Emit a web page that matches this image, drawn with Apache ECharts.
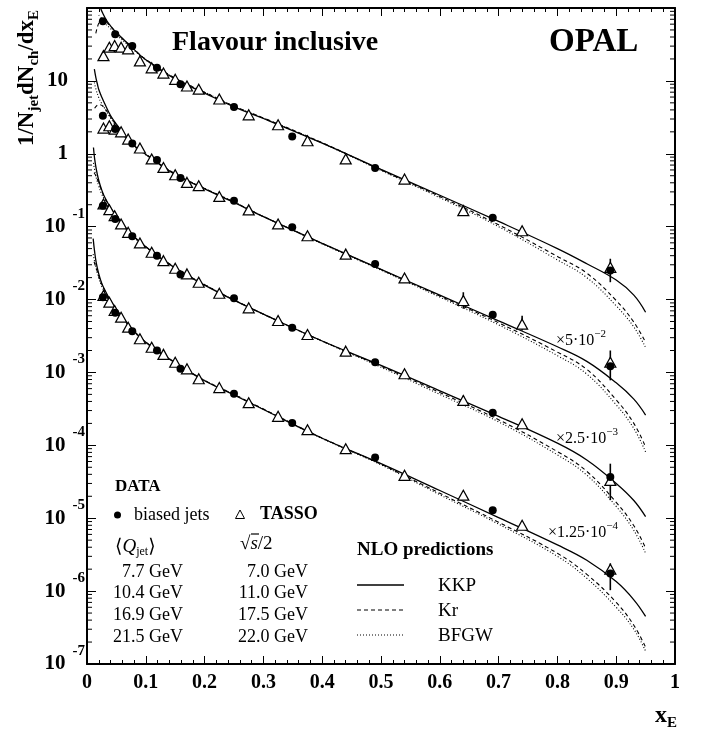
<!DOCTYPE html>
<html><head><meta charset="utf-8">
<script src="https://cdn.jsdelivr.net/npm/echarts@6/dist/echarts.min.js"></script>
<style>html,body{margin:0;padding:0;background:#fff}#c{width:701px;height:732px}</style>
</head><body><div id="c"></div>
<script>
const FONT = '"Liberation Serif","DejaVu Serif",serif';

// ---------------- data ----------------
const xTickLabels = ['0','0.1','0.2','0.3','0.4','0.5','0.6','0.7','0.8','0.9','1'];
const yDecadeExponents = [-7,-6,-5,-4,-3,-2,-1,0,1,2];
const minorMantissas = [2,3,4,5,6,7,8,9];

// OPAL biased jets (filled circles), values as plotted (scaled)
const jetX  = [0.027, 0.048, 0.077, 0.119, 0.159, 0.25, 0.349, 0.49, 0.69, 0.89];
const jet1  = [66, 43.6, 30.1, 15.2, 9.0, 4.4, 1.72, 0.637, 0.133, 0.025];
const jet2  = [3.32, 2.18, 1.38, 0.82, 0.465, 0.227, 0.098, 0.0308, 0.0062, 0.00122];
const jet3  = [0.194, 0.127, 0.0738, 0.040, 0.022, 0.0104, 0.0041, 0.00138, 0.00028, 0.0000368];
const jet4  = [0.01075, 0.00658, 0.00368, 0.0020, 0.001125, 0.00051, 0.000202, 0.000068, 0.0000129, 0.00000175];

// TASSO (open triangles)
const tassoX = [0.028, 0.038, 0.047, 0.058, 0.07, 0.09, 0.11, 0.13, 0.15, 0.17, 0.19, 0.225, 0.275, 0.325, 0.375, 0.44, 0.54, 0.64, 0.74, 0.89];
const tasso1 = [22.2, 29, 30.5, 29, 27.5, 18.8, 15.1, 12.8, 10.5, 8.5, 7.7, 5.65, 3.42, 2.5, 1.51, 0.85, 0.45, 0.166, 0.088, 0.0277];
const tasso2 = [2.25, 2.42, 2.18, 2.0, 1.59, 1.2, 0.85, 0.65, 0.515, 0.405, 0.365, 0.26, 0.17, 0.109, 0.075, 0.042, 0.0198, 0.0097, 0.0046, 0.00138];
const tasso3 = [0.205, 0.171, 0.1415, 0.109, 0.0836, 0.0598, 0.0445, 0.0342, 0.0269, 0.0225, 0.0173, 0.0122, 0.0077, 0.00516, 0.00332, 0.00196, 0.00096, 0.000413, 0.000198, 0.000033];
const tasso4 = [0.01135, 0.0092, 0.00707, 0.00573, 0.00418, 0.0029, 0.00222, 0.00177, 0.00138, 0.00112, 0.00082, 0.00062, 0.000385, 0.00025, 0.000164, 0.00009, 0.0000388, 0.0000207, 0.000008, 0.000002];

// error bars [x, low, high]
const errBars = [
  [0.89, 0.0173, 0.0363], [0.74, 0.08, 0.097],
  [0.64, 0.0075, 0.0126], [0.74, 0.00376, 0.006], [0.89, 0.00078, 0.002],
  [0.64, 0.00035, 0.00048], [0.89, 0.0000177, 0.000056],
  [0.89, 0.00000103, 0.0000024]
];

// NLO predictions [x, y]
const kkp1 = [[0.02,125],[0.023,100],[0.027,84],[0.034,66],[0.04,57],[0.05,46],[0.075,29.5],[0.1,19.5],[0.15,10.6],[0.2,6.8],[0.25,4.4],[0.3,3.05],[0.4,1.4],[0.5,0.61],[0.6,0.27],[0.7,0.118],[0.8,0.05],[0.85,0.031],[0.9,0.0185],[0.93,0.0115],[0.95,0.0067]];
const kr1  = [[0.015,45],[0.02,62],[0.025,70],[0.03,67],[0.04,56],[0.05,45.5],[0.075,29.5],[0.1,19.8],[0.15,10.9],[0.2,7.0],[0.25,4.5],[0.3,3.1],[0.4,1.42],[0.5,0.6],[0.6,0.26],[0.7,0.106],[0.8,0.039],[0.85,0.023],[0.9,0.0097],[0.93,0.0049],[0.95,0.0026]];
const bf1  = [[0.02,80],[0.025,72],[0.03,63],[0.04,52],[0.05,43],[0.075,28.5],[0.1,19.3],[0.15,10.8],[0.2,7.0],[0.25,4.5],[0.3,3.08],[0.4,1.4],[0.5,0.59],[0.6,0.25],[0.7,0.1],[0.8,0.035],[0.85,0.02],[0.9,0.0082],[0.93,0.0042],[0.95,0.0022]];

const kkp2 = [[0.0125,14.5],[0.015,11.2],[0.018,8.8],[0.02,7.6],[0.025,6.0],[0.03,4.9],[0.04,3.35],[0.05,2.55],[0.075,1.42],[0.1,0.98],[0.15,0.52],[0.2,0.33],[0.25,0.215],[0.3,0.137],[0.4,0.059],[0.5,0.026],[0.6,0.0115],[0.7,0.0051],[0.8,0.00225],[0.85,0.00142],[0.9,0.00072],[0.93,0.00043],[0.95,0.00026]];
const kr2  = [[0.013,4.2],[0.017,4.6],[0.022,4.7],[0.03,4.2],[0.04,3.2],[0.05,2.5],[0.075,1.42],[0.1,0.99],[0.15,0.53],[0.2,0.335],[0.25,0.218],[0.3,0.138],[0.4,0.059],[0.5,0.0258],[0.6,0.0112],[0.7,0.0048],[0.8,0.0019],[0.85,0.0011],[0.9,0.00042],[0.93,0.0002],[0.95,0.000095]];
const bf2  = [[0.0125,9.5],[0.015,7.8],[0.02,5.9],[0.025,4.9],[0.03,4.2],[0.04,3.1],[0.05,2.4],[0.075,1.38],[0.1,0.97],[0.15,0.53],[0.2,0.335],[0.25,0.218],[0.3,0.138],[0.4,0.058],[0.5,0.0253],[0.6,0.0108],[0.7,0.0045],[0.8,0.0017],[0.85,0.00095],[0.9,0.00036],[0.93,0.00017],[0.95,0.000081]];

const kkp3 = [[0.011,1.22],[0.013,0.85],[0.016,0.6],[0.02,0.43],[0.025,0.32],[0.03,0.255],[0.04,0.182],[0.05,0.137],[0.075,0.08],[0.1,0.053],[0.15,0.027],[0.2,0.0158],[0.25,0.0098],[0.3,0.0063],[0.4,0.0027],[0.5,0.00125],[0.6,0.00056],[0.7,0.00025],[0.8,0.000107],[0.85,0.000063],[0.9,0.00003],[0.93,0.0000175],[0.95,0.0000105]];
const kr3  = [[0.012,0.55],[0.015,0.5],[0.02,0.4],[0.025,0.31],[0.03,0.25],[0.04,0.18],[0.05,0.136],[0.075,0.08],[0.1,0.053],[0.15,0.0275],[0.2,0.016],[0.25,0.0099],[0.3,0.0063],[0.4,0.0027],[0.5,0.00122],[0.6,0.00053],[0.7,0.000225],[0.8,0.000082],[0.85,0.000044],[0.9,0.0000165],[0.93,0.0000079],[0.95,0.0000039]];
const bf3  = [[0.011,0.75],[0.013,0.6],[0.016,0.46],[0.02,0.36],[0.025,0.28],[0.03,0.235],[0.04,0.173],[0.05,0.132],[0.075,0.078],[0.1,0.052],[0.15,0.0272],[0.2,0.016],[0.25,0.0099],[0.3,0.0063],[0.4,0.00268],[0.5,0.00118],[0.6,0.0005],[0.7,0.00021],[0.8,0.000074],[0.85,0.000039],[0.9,0.0000145],[0.93,0.0000068],[0.95,0.0000033]];

const kkp4 = [[0.0105,0.0685],[0.013,0.045],[0.016,0.031],[0.02,0.0225],[0.025,0.0168],[0.03,0.0137],[0.04,0.0097],[0.05,0.0073],[0.075,0.0041],[0.1,0.0026],[0.15,0.00135],[0.2,0.00077],[0.25,0.00049],[0.3,0.00031],[0.4,0.000125],[0.5,0.000056],[0.6,0.000024],[0.7,0.0000102],[0.8,0.0000043],[0.85,0.00000265],[0.9,0.00000135],[0.93,0.00000076],[0.95,0.00000045]];
const kr4  = [[0.012,0.033],[0.015,0.028],[0.02,0.021],[0.025,0.0163],[0.03,0.0134],[0.04,0.0096],[0.05,0.0073],[0.075,0.0041],[0.1,0.0026],[0.15,0.00137],[0.2,0.00078],[0.25,0.0005],[0.3,0.000315],[0.4,0.000126],[0.5,0.000055],[0.6,0.000022],[0.7,0.0000088],[0.8,0.0000033],[0.85,0.0000017],[0.9,0.0000007],[0.93,0.00000034],[0.95,0.00000017]];
const bf4  = [[0.0105,0.042],[0.013,0.033],[0.016,0.026],[0.02,0.0195],[0.025,0.0152],[0.03,0.0127],[0.04,0.0093],[0.05,0.0071],[0.075,0.004],[0.1,0.00257],[0.15,0.00136],[0.2,0.00078],[0.25,0.0005],[0.3,0.000313],[0.4,0.000124],[0.5,0.000054],[0.6,0.000021],[0.7,0.0000083],[0.8,0.000003],[0.85,0.0000015],[0.9,0.0000006],[0.93,0.0000003],[0.95,0.00000015]];

// legend texts
const jetEnergies   = ['7.7 GeV','10.4 GeV','16.9 GeV','21.5 GeV'];
const tassoEnergies = ['7.0 GeV','11.0 GeV','17.5 GeV','22.0 GeV'];
const nloNames = ['KKP','Kr','BFGW'];
const scaleLabels = [['5','\u22122'],['2.5','\u22123'],['1.25','\u22124']];

// ---------------- build ----------------
const zip = (xs, ys) => xs.map((x, i) => [x, ys[i]]);
const jetSets = [jet1, jet2, jet3, jet4];
const tassoSets = [tasso1, tasso2, tasso3, tasso4];
const curveSets = [[kkp1,kr1,bf1],[kkp2,kr2,bf2],[kkp3,kr3,bf3],[kkp4,kr4,bf4]];
const lineTypes = ['solid', [4,3], [1,2]];

const series = [];
curveSets.forEach(set => set.forEach((d, j) => {
  series.push({type:'line', data:d, showSymbol:false, symbol:'none', smooth:0.4,
    clip:true, silent:true, z:2,
    lineStyle:{color:'#000', width: j===0 ? 1.3 : 1.1, type: lineTypes[j]}});
}));
series.push({type:'custom', coordinateSystem:'cartesian2d', data: errBars, z:3, silent:true,
  encode:{x:0, y:[1,2]},
  renderItem:(p, api) => {
    const a = api.coord([api.value(0), api.value(1)]);
    const b = api.coord([api.value(0), api.value(2)]);
    return {type:'line', shape:{x1:a[0], y1:a[1], x2:b[0], y2:b[1]}, style:{stroke:'#000', lineWidth:1.6}};
  }});
tassoSets.forEach(d => series.push({type:'scatter', data: zip(tassoX, d), symbol:'triangle', symbolSize:[11,10],
  z:4, silent:true, itemStyle:{color:'#fff', borderColor:'#000', borderWidth:1.2, opacity:1}}));
jetSets.forEach(d => series.push({type:'scatter', data: zip(jetX, d), symbol:'circle', symbolSize:8,
  z:5, silent:true, itemStyle:{color:'#000', opacity:1}}));

// minor log ticks (both sides) at m*10^k
const minorVals = [];
yDecadeExponents.slice(0, -1).forEach(k => minorMantissas.forEach(m => minorVals.push([0, m * Math.pow(10, k)])));
series.push({type:'custom', coordinateSystem:'cartesian2d', data: minorVals, z:6, silent:true, clip:false,
  encode:{x:0, y:1},
  renderItem:(p, api) => {
    const l = api.coord([0, api.value(1)]);
    const r = api.coord([1, api.value(1)]);
    return {type:'group', children:[
      {type:'line', shape:{x1:l[0], y1:l[1], x2:l[0]+5, y2:l[1]}, style:{stroke:'#000', lineWidth:1}},
      {type:'line', shape:{x1:r[0], y1:r[1], x2:r[0]-5, y2:r[1]}, style:{stroke:'#000', lineWidth:1}}
    ]};
  }});

const axisLine = {show:true, onZero:false, lineStyle:{color:'#000', width:2}};
const xBase = {type:'value', min:0, max:1, interval:0.1, axisLine,
  axisTick:{show:true, inside:true, length:8, lineStyle:{color:'#000', width:1}},
  minorTick:{show:true, splitNumber:5, length:4, lineStyle:{color:'#000', width:1}},
  splitLine:{show:false}, minorSplitLine:{show:false}};
const yBase = {type:'log', logBase:10, min:1e-7, max:100, splitNumber:9, axisLine,
  axisTick:{show:true, inside:true, length:9, lineStyle:{color:'#000', width:1}},
  splitLine:{show:false}};

const bold = {fontFamily:FONT, fontWeight:'bold', color:'#000'};
const reg = {fontFamily:FONT, color:'#000'};

const option = {
  animation:false,
  backgroundColor:'#fff',
  grid:{left:87, right:26, top:8, bottom:68, containLabel:false},
  xAxis:[
    Object.assign({}, xBase, {position:'bottom',
      axisLabel:{margin:9, fontFamily:FONT, fontWeight:'bold', fontSize:20, color:'#000',
        formatter:(v, i) => xTickLabels[Math.round(v*10)]}}),
    Object.assign({}, xBase, {position:'top', axisLabel:{show:false}})
  ],
  yAxis:[
    Object.assign({}, yBase, {position:'left',
      axisLabel:{margin:2,
        formatter:(v) => {
          const k = Math.round(Math.log10(v));
          if (k === 2) return '';
          if (k === 1) return '{bp|10}';
          if (k === 0) return '{bp|1}';
          return '{b|10}{e|' + k + '}';
        },
        rich:{
          b:Object.assign({fontSize:21}, bold),
          bp:Object.assign({fontSize:21, padding:[0,17,0,0]}, bold),
          e:Object.assign({fontSize:15, padding:[0,0,26,7]}, bold)
        }}}),
    Object.assign({}, yBase, {position:'right', axisLabel:{show:false}})
  ],
  series,
  graphic:[]
};

const chart = echarts.init(document.getElementById('c'), null, {renderer:'canvas'});
chart.setOption(option);

// ---------------- annotations ----------------
const g = [];
const txt = (x, y, text, font, align) => ({type:'text', x, y, silent:true,
  style:{text, font, fill:'#000', textAlign: align || 'left', textVerticalAlign:'middle'}});

g.push(txt(172, 43, 'Flavour inclusive', 'bold 28px ' + FONT));
g.push(txt(549, 42, 'OPAL', 'bold 33px ' + FONT));

// y title (rotated)
g.push({type:'text', x:27, y:78, rotation:Math.PI/2, silent:true,
  style:{text:'{a|1/N}{s|jet}{a|dN}{s|ch}{a|/dx}{s|E}', textAlign:'center', textVerticalAlign:'middle',
    rich:{a:Object.assign({fontSize:23}, bold), s:Object.assign({fontSize:15, padding:[14,0,0,0]}, bold)}}});
// x title
g.push({type:'text', x:655, y:716, silent:true,
  style:{text:'{a|x}{s|E}', textAlign:'left', textVerticalAlign:'middle',
    rich:{a:Object.assign({fontSize:24}, bold), s:Object.assign({fontSize:15, padding:[14,0,0,0]}, bold)}}});

// DATA legend
g.push(txt(115, 487, 'DATA', 'bold 17px ' + FONT));
g.push({type:'circle', silent:true, shape:{cx:117.5, cy:515, r:3.5}, style:{fill:'#000'}});
g.push(txt(134, 515, 'biased jets', '18px ' + FONT));
g.push({type:'polygon', silent:true, shape:{points:[[240,510],[244.5,518.5],[235.5,518.5]]}, style:{fill:'#fff', stroke:'#000', lineWidth:1}});
g.push(txt(260, 514, 'TASSO', 'bold 18px ' + FONT));
g.push({type:'text', x:115, y:547, silent:true,
  style:{text:'{r|\u27E8}{q|Q}{s|jet}{r|\u27E9}', textAlign:'left', textVerticalAlign:'middle',
    rich:{r:Object.assign({fontSize:19}, reg), q:Object.assign({fontSize:19, fontStyle:'italic'}, reg),
      s:Object.assign({fontSize:12, padding:[10,0,0,0]}, reg)}}});
g.push({type:'text', x:240, y:544, silent:true,
  style:{text:'{r|\u221A}{q|s}{r|/2}', textAlign:'left', textVerticalAlign:'middle',
    rich:{r:Object.assign({fontSize:19}, reg), q:Object.assign({fontSize:19, fontStyle:'italic'}, reg)}}});
g.push({type:'line', silent:true, shape:{x1:251, y1:534, x2:259, y2:534}, style:{stroke:'#000', lineWidth:1.2}});
const rowsY = [572, 593.5, 615, 637];
jetEnergies.forEach((t, i) => g.push(txt(183, rowsY[i], t, '18px ' + FONT, 'right')));
tassoEnergies.forEach((t, i) => g.push(txt(308, rowsY[i], t, '18px ' + FONT, 'right')));

// NLO legend
g.push(txt(357, 550, 'NLO predictions', 'bold 19px ' + FONT));
const legY = [585, 610, 635];
lineTypes.forEach((lt, i) => {
  g.push({type:'line', silent:true, shape:{x1:357, y1:legY[i], x2:404, y2:legY[i]},
    style:{stroke:'#000', lineWidth: i===0 ? 1.3 : 1.1, lineDash: lt === 'solid' ? null : lt}});
  g.push(txt(438, legY[i] + 1, nloNames[i], '19px ' + FONT));
});

// scale factors
const scalePos = [[556, 341], [556, 439], [548, 533]];
scaleLabels.forEach((s, i) => g.push({type:'text', x:scalePos[i][0], y:scalePos[i][1], silent:true,
  style:{text:'{t|\u00D7' + s[0] + '\u00B710}{e|' + s[1] + '}', textAlign:'left', textVerticalAlign:'middle',
    rich:{t:Object.assign({fontSize:16}, reg), e:Object.assign({fontSize:11, padding:[0,0,14,0]}, reg)}}}));

chart.setOption({graphic: g});
</script>
</body></html>
